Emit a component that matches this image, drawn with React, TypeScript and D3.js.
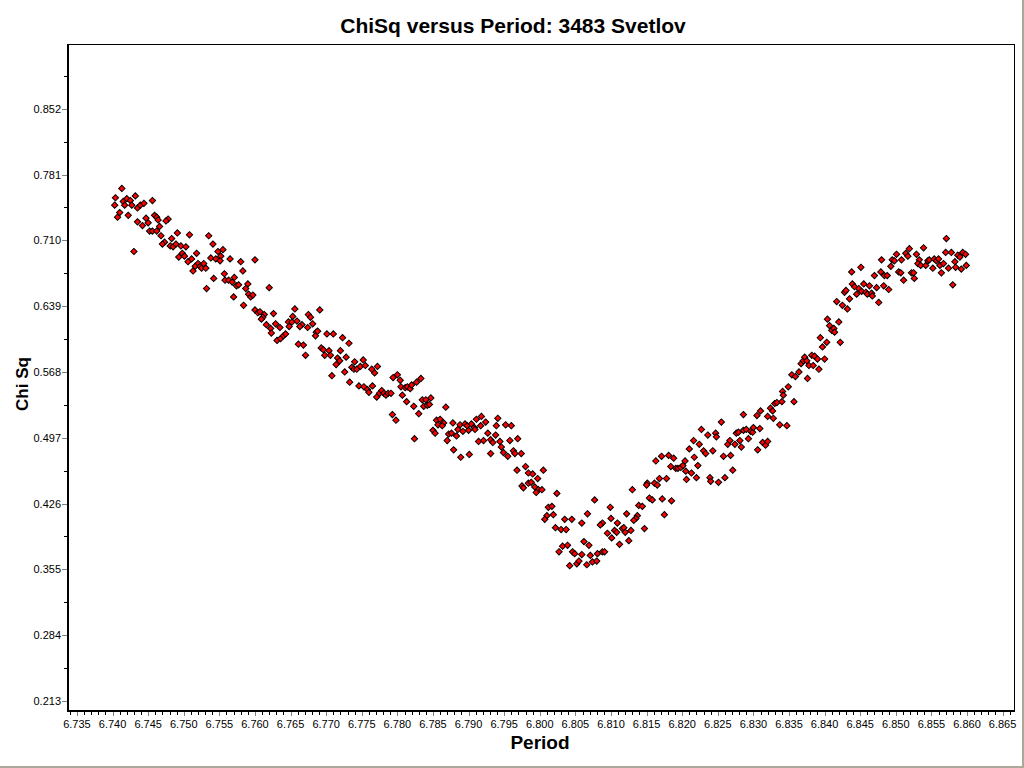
import React from "react";
import * as d3 from "d3";

const title = "ChiSq versus Period: 3483 Svetlov";
const xTitle = "Period";
const yTitle = "Chi Sq";

const yTickLabels = ["0.213", "0.284", "0.355", "0.426", "0.497", "0.568", "0.639", "0.710", "0.781", "0.852"];
const xTickLabels = [
  "6.735", "6.740", "6.745", "6.750", "6.755", "6.760", "6.765", "6.770", "6.775",
  "6.780", "6.785", "6.790", "6.795", "6.800", "6.805", "6.810", "6.815", "6.820",
  "6.825", "6.830", "6.835", "6.840", "6.845", "6.850", "6.855", "6.860", "6.865",
];

// period samples (days)
const periods = [
  6.7413, 6.7404, 6.7432, 6.7456, 6.7415, 6.7420, 6.7425, 6.7403, 6.7417, 6.7427,
  6.7435, 6.7439, 6.7444, 6.7410, 6.7407, 6.7422, 6.7459, 6.7462, 6.7435, 6.7447,
  6.7450, 6.7442, 6.7478, 6.7475, 6.7464, 6.7466, 6.7452, 6.7456, 6.7462, 6.7468,
  6.7491, 6.7508, 6.7535, 6.7483, 6.7473, 6.7470, 6.7481, 6.7485, 6.7489, 6.7496,
  6.7503, 6.7541, 6.7430, 6.7518, 6.7548, 6.7555, 6.7498, 6.7493, 6.7501, 6.7511,
  6.7506, 6.7538, 6.7545, 6.7552, 6.7551, 6.7565, 6.7580, 6.7600, 6.7520, 6.7516,
  6.7523, 6.7528, 6.7525, 6.7531, 6.7513, 6.7583, 6.7557, 6.7542, 6.7571, 6.7558,
  6.7563, 6.7568, 6.7574, 6.7577, 6.7590, 6.7587, 6.7532, 6.7620, 6.7591, 6.7594,
  6.7597, 6.7570, 6.7584, 6.7600, 6.7604, 6.7607, 6.7613, 6.7611, 6.7609, 6.7626,
  6.7616, 6.7622, 6.7623, 6.7629, 6.7635, 6.7647, 6.7648, 6.7631, 6.7636, 6.7640,
  6.7643, 6.7656, 6.7691, 6.7653, 6.7652, 6.7659, 6.7675, 6.7678, 6.7681, 6.7666,
  6.7663, 6.7674, 6.7686, 6.7685, 6.7688, 6.7701, 6.7710, 6.7723, 6.7732, 6.7661,
  6.7668, 6.7671, 6.7693, 6.7696, 6.7704, 6.7698, 6.7706, 6.7720, 6.7728, 6.7716,
  6.7719, 6.7714, 6.7726, 6.7708, 6.7740, 6.7752, 6.7736, 6.7739, 6.7743, 6.7748,
  6.7755, 6.7764, 6.7768, 6.7772, 6.7733, 6.7746, 6.7753, 6.7758, 6.7760, 6.7765,
  6.7771, 6.7775, 6.7778, 6.7781, 6.7784, 6.7787, 6.7791, 6.7794, 6.7800, 6.7804,
  6.7805, 6.7811, 6.7814, 6.7818, 6.7820, 6.7827, 6.7833, 6.7807, 6.7813, 6.7823,
  6.7835, 6.7840, 6.7847, 6.7837, 6.7842, 6.7845, 6.7868, 6.7830, 6.7793, 6.7798,
  6.7824, 6.7855, 6.7860, 6.7865, 6.7857, 6.7863, 6.7878, 6.7850, 6.7853, 6.7872,
  6.7876, 6.7883, 6.7870, 6.7888, 6.7895, 6.7898, 6.7885, 6.7892, 6.7900, 6.7879,
  6.7889, 6.7901, 6.7904, 6.7908, 6.7909, 6.7911, 6.7918, 6.7917, 6.7924, 6.7941,
  6.7939, 6.7952, 6.7960, 6.7927, 6.7938, 6.7914, 6.7921, 6.7931, 6.7934, 6.7944,
  6.7946, 6.7958, 6.7969, 6.7949, 6.7955, 6.7963, 6.7965, 6.7974, 6.7931, 6.7968,
  6.7980, 6.7984, 6.7990, 6.8005, 6.7997, 6.7975, 6.7977, 6.7984, 6.7988, 6.7993,
  6.7998, 6.8003, 6.7995, 6.8024, 6.8012, 6.8017, 6.8010, 6.8007, 6.8019, 6.8022,
  6.8030, 6.8037, 6.8035, 6.8045, 6.8059, 6.8067, 6.8077, 6.8130, 6.8099, 6.8100,
  6.8088, 6.8085, 6.8109, 6.8122, 6.8139, 6.8137, 6.8135, 6.8132, 6.8095, 6.8101,
  6.8105, 6.8108, 6.8116, 6.8118, 6.8120, 6.8128, 6.8112, 6.8125, 6.8062, 6.8069,
  6.8032, 6.8039, 6.8027, 6.8046, 6.8049, 6.8059, 6.8071, 6.8081, 6.8088, 6.8091,
  6.8042, 6.8052, 6.8055, 6.8066, 6.8074, 6.8080, 6.8151, 6.8150, 6.8161, 6.8165,
  6.8168, 6.8178, 6.8154, 6.8158, 6.8172, 6.8185, 6.8144, 6.8175, 6.8147, 6.8163,
  6.8171, 6.8181, 6.8188, 6.8204, 6.8184, 6.8191, 6.8194, 6.8198, 6.8201, 6.8205,
  6.8213, 6.8222, 6.8206, 6.8220, 6.8210, 6.8216, 6.8224, 6.8217, 6.8230, 6.8233,
  6.8243, 6.8227, 6.8236, 6.8247, 6.8248, 6.8255, 6.8239, 6.8240, 6.8251, 6.8260,
  6.8271, 6.8258, 6.8268, 6.8264, 6.8267, 6.8274, 6.8281, 6.8283, 6.8276, 6.8279,
  6.8293, 6.8286, 6.8290, 6.8296, 6.8299, 6.8300, 6.8309, 6.8286, 6.8305, 6.8310,
  6.8320, 6.8324, 6.8327, 6.8328, 6.8306, 6.8313, 6.8317, 6.8320, 6.8337, 6.8347,
  6.8330, 6.8333, 6.8340, 6.8357, 6.8341, 6.8342, 6.8349, 6.8354, 6.8359, 6.8364,
  6.8376, 6.8367, 6.8370, 6.8372, 6.8375, 6.8378, 6.8382, 6.8384, 6.8386, 6.8390,
  6.8392, 6.8400, 6.8394, 6.8397, 6.8403, 6.8422, 6.8404, 6.8407, 6.8410, 6.8413,
  6.8414, 6.8420, 6.8417, 6.8425, 6.8432, 6.8435, 6.8428, 6.8430, 6.8439, 6.8442,
  6.8448, 6.8452, 6.8445, 6.8455, 6.8458, 6.8460, 6.8466, 6.8467, 6.8463, 6.8473,
  6.8476, 6.8483, 6.8490, 6.8438, 6.8451, 6.8470, 6.8479, 6.8484, 6.8488, 6.8493,
  6.8480, 6.8495, 6.8498, 6.8501, 6.8508, 6.8504, 6.8507, 6.8511, 6.8514, 6.8517,
  6.8519, 6.8522, 6.8525, 6.8526, 6.8529, 6.8533, 6.8531, 6.8535, 6.8539, 6.8542,
  6.8545, 6.8547, 6.8552, 6.8554, 6.8557, 6.8560, 6.8562, 6.8564, 6.8567, 6.8571,
  6.8570, 6.8578, 6.8574, 6.8580, 6.8583, 6.8584, 6.8587, 6.8590, 6.8592, 6.8594,
  6.8598, 6.8599,
];

// chi-square value for each period above
const chiSq = [
  0.766, 0.756, 0.758, 0.753, 0.752, 0.755, 0.753, 0.748, 0.748, 0.748,
  0.745, 0.748, 0.750, 0.740, 0.735, 0.737, 0.737, 0.735, 0.730, 0.734,
  0.729, 0.726, 0.733, 0.731, 0.732, 0.725, 0.720, 0.720, 0.720, 0.715,
  0.718, 0.716, 0.715, 0.712, 0.708, 0.706, 0.704, 0.703, 0.706, 0.704,
  0.703, 0.706, 0.698, 0.696, 0.698, 0.700, 0.696, 0.692, 0.693, 0.690,
  0.687, 0.691, 0.690, 0.693, 0.688, 0.690, 0.687, 0.689, 0.685, 0.682,
  0.682, 0.685, 0.680, 0.680, 0.677, 0.677, 0.674, 0.669, 0.670, 0.667,
  0.667, 0.665, 0.661, 0.662, 0.663, 0.658, 0.658, 0.659, 0.652, 0.649,
  0.651, 0.649, 0.640, 0.635, 0.632, 0.633, 0.630, 0.627, 0.625, 0.631,
  0.619, 0.615, 0.610, 0.620, 0.616, 0.622, 0.617, 0.602, 0.604, 0.607,
  0.609, 0.636, 0.635, 0.628, 0.622, 0.623, 0.630, 0.627, 0.620, 0.619,
  0.617, 0.616, 0.611, 0.607, 0.612, 0.609, 0.609, 0.605, 0.599, 0.598,
  0.597, 0.586, 0.594, 0.592, 0.591, 0.586, 0.586, 0.591, 0.584, 0.583,
  0.580, 0.576, 0.568, 0.564, 0.579, 0.581, 0.573, 0.571, 0.571, 0.574,
  0.575, 0.571, 0.567, 0.574, 0.557, 0.553, 0.552, 0.549, 0.546, 0.553,
  0.541, 0.545, 0.548, 0.545, 0.543, 0.545, 0.545, 0.562, 0.565, 0.559,
  0.552, 0.551, 0.552, 0.550, 0.554, 0.557, 0.561, 0.543, 0.536, 0.531,
  0.538, 0.538, 0.540, 0.531, 0.532, 0.533, 0.530, 0.523, 0.522, 0.516,
  0.496, 0.516, 0.517, 0.513, 0.511, 0.510, 0.513, 0.505, 0.502, 0.501,
  0.502, 0.499, 0.494, 0.511, 0.512, 0.510, 0.506, 0.504, 0.505, 0.484,
  0.476, 0.479, 0.512, 0.508, 0.506, 0.517, 0.520, 0.510, 0.514, 0.518,
  0.510, 0.511, 0.510, 0.502, 0.500, 0.493, 0.494, 0.495, 0.492, 0.493,
  0.487, 0.494, 0.496, 0.481, 0.477, 0.483, 0.480, 0.480, 0.480, 0.462,
  0.466, 0.459, 0.458, 0.462, 0.453, 0.445, 0.443, 0.448, 0.449, 0.444,
  0.441, 0.441, 0.438, 0.437, 0.422, 0.423, 0.413, 0.409, 0.414, 0.400,
  0.398, 0.398, 0.409, 0.409, 0.405, 0.415, 0.430, 0.441, 0.422, 0.410,
  0.405, 0.403, 0.405, 0.415, 0.424, 0.413, 0.410, 0.408, 0.394, 0.389,
  0.397, 0.395, 0.399, 0.400, 0.395, 0.397, 0.382, 0.386, 0.385, 0.381,
  0.380, 0.381, 0.374, 0.374, 0.372, 0.371, 0.370, 0.372, 0.374, 0.374,
  0.359, 0.361, 0.364, 0.360, 0.363, 0.364, 0.448, 0.446, 0.448, 0.446,
  0.453, 0.453, 0.432, 0.430, 0.431, 0.429, 0.423, 0.414, 0.399, 0.472,
  0.477, 0.478, 0.475, 0.472, 0.466, 0.464, 0.464, 0.465, 0.467, 0.461,
  0.459, 0.467, 0.452, 0.454, 0.485, 0.494, 0.490, 0.476, 0.483, 0.480,
  0.483, 0.506, 0.500, 0.502, 0.498, 0.514, 0.454, 0.450, 0.449, 0.454,
  0.462, 0.477, 0.478, 0.490, 0.494, 0.490, 0.494, 0.487, 0.502, 0.503,
  0.496, 0.505, 0.506, 0.504, 0.503, 0.508, 0.507, 0.522, 0.521, 0.526,
  0.520, 0.529, 0.526, 0.518, 0.484, 0.492, 0.489, 0.493, 0.511, 0.510,
  0.534, 0.535, 0.536, 0.536, 0.547, 0.543, 0.552, 0.565, 0.563, 0.568,
  0.561, 0.577, 0.580, 0.584, 0.580, 0.575, 0.586, 0.575, 0.585, 0.582,
  0.571, 0.582, 0.605, 0.595, 0.600, 0.600, 0.625, 0.618, 0.613, 0.615,
  0.611, 0.622, 0.644, 0.640, 0.636, 0.647, 0.654, 0.656, 0.663, 0.660,
  0.658, 0.655, 0.652, 0.663, 0.654, 0.652, 0.653, 0.650, 0.661, 0.659,
  0.643, 0.661, 0.657, 0.676, 0.681, 0.672, 0.676, 0.672, 0.672, 0.682,
  0.689, 0.689, 0.688, 0.695, 0.689, 0.676, 0.675, 0.667, 0.696, 0.693,
  0.701, 0.675, 0.675, 0.669, 0.695, 0.689, 0.685, 0.683, 0.702, 0.683,
  0.688, 0.689, 0.680, 0.690, 0.688, 0.690, 0.683, 0.675, 0.685, 0.712,
  0.697, 0.697, 0.680, 0.662, 0.687, 0.681, 0.694, 0.692, 0.679, 0.697,
  0.695, 0.683,
];

const W = 1024;
const H = 768;
const plot = { left: 67, right: 1014, top: 44, bottom: 711 };
const font = "'Liberation Sans', Arial, sans-serif";

export default function App() {
  const x = d3.scaleLinear().domain([6.7336, 6.8666]).range([plot.left, plot.right]);
  const y = d3.scaleLinear().domain([0.2022, 0.9219]).range([plot.bottom, plot.top]);

  const yMajor = yTickLabels.map(Number);
  const yStep = yMajor[1] - yMajor[0];
  const yMinor = yMajor.map(v => v + yStep / 2).filter(v => y(v) > plot.top);

  const xMajor = xTickLabels.map(Number);
  const xMinor = d3.range(0, 133).map(i => 6.734 + i * 0.001).filter(v => {
    const px = x(v);
    return px > plot.left + 1 && px < plot.right;
  });

  const diamond = d3.symbol(d3.symbolSquare, 20)();

  const pts = periods.map((p, i) => ({ p, c: chiSq[i] }));

  return (
    <div style={{ position: "absolute", left: 0, top: 0 }}>
      <svg width={W} height={H} style={{ display: "block", background: "#fff" }}>
        <rect x={0} y={0} width={W} height={H} fill="#fff" />

        <text x={513} y={33} textAnchor="middle" fontFamily={font} fontWeight="bold" fontSize={21} fill="#000">
          {title}
        </text>

        {/* frame */}
        <line x1={plot.left} x2={plot.right + 0.5} y1={plot.top + 0.5} y2={plot.top + 0.5} stroke="#000" />
        <line x1={plot.right + 0.5} x2={plot.right + 0.5} y1={plot.top} y2={plot.bottom} stroke="#000" />

        {/* y ticks */}
        {yMajor.map((v, i) => (
          <g key={"ym" + i}>
            <line x1={62} x2={plot.left} y1={Math.round(y(v)) + 0.5} y2={Math.round(y(v)) + 0.5} stroke="#808080" />
            <text x={61} y={Math.round(y(v)) + 4} textAnchor="end" fontFamily={font} fontSize={11} fill="#000">
              {yTickLabels[i]}
            </text>
          </g>
        ))}
        {yMinor.map((v, i) => (
          <line key={"yn" + i} x1={64} x2={plot.left} y1={Math.round(y(v)) + 0.5} y2={Math.round(y(v)) + 0.5} stroke="#000" />
        ))}

        {/* x ticks */}
        {xMinor.map((v, i) => (
          <line key={"xn" + i} x1={Math.round(x(v)) + 0.5} x2={Math.round(x(v)) + 0.5} y1={plot.bottom} y2={plot.bottom + 4} stroke="#000" />
        ))}
        {xMajor.map((v, i) => (
          <g key={"xm" + i}>
            <line x1={Math.round(x(v)) + 0.5} x2={Math.round(x(v)) + 0.5} y1={plot.bottom} y2={plot.bottom + 5} stroke="#808080" />
            <text x={x(v)} y={728} textAnchor="middle" fontFamily={font} fontSize={11} fill="#000">
              {xTickLabels[i]}
            </text>
          </g>
        ))}

        {/* axes */}
        <line x1={plot.left + 1} x2={plot.left + 1} y1={plot.top} y2={plot.bottom + 1} stroke="#000" strokeWidth={2} />
        <line x1={plot.left} x2={plot.right + 1} y1={plot.bottom} y2={plot.bottom} stroke="#000" strokeWidth={2} />

        <text x={540} y={749} textAnchor="middle" fontFamily={font} fontWeight="bold" fontSize={19} fill="#000">
          {xTitle}
        </text>
        <text transform={`translate(28, 384) rotate(-90)`} textAnchor="middle" fontFamily={font} fontWeight="bold" fontSize={17} fill="#000">
          {yTitle}
        </text>

        {/* points */}
        {pts.map((d, i) => (
          <path
            key={i}
            d={diamond || ""}
            transform={`translate(${x(d.p)},${y(d.c)}) rotate(45)`}
            fill="#ff0000"
            stroke="#000"
            strokeWidth={1}
          />
        ))}

        {/* window edge */}
        <rect x={1022} y={0} width={2} height={H} fill="#aca899" />
        <rect x={0} y={766} width={W} height={2} fill="#aca899" />
      </svg>
    </div>
  );
}
